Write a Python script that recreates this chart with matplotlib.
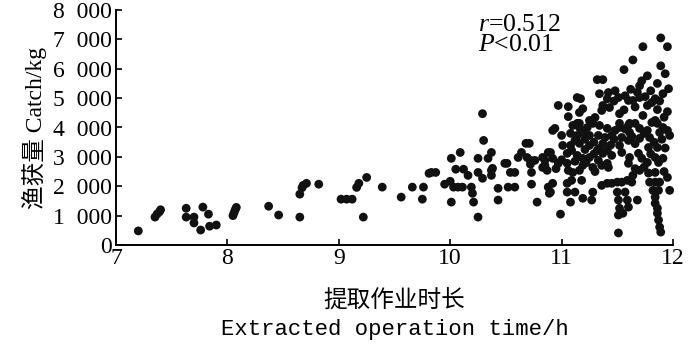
import matplotlib
matplotlib.use("Agg")
import matplotlib.pyplot as plt

hours = [
    7.20, 7.35, 7.37, 7.39, 7.40, 7.63, 7.63, 7.70, 7.70, 7.78, 7.83, 7.76, 7.84, 7.90,
    8.05, 8.06, 8.07, 8.08, 8.37, 8.46, 8.65, 8.67, 8.68, 8.71, 8.65, 8.82,
    9.02, 9.07, 9.12, 9.16, 9.18, 9.25, 9.22, 9.39, 9.56, 9.66, 9.76, 9.75, 9.81,
    10.29, 10.30, 10.09, 10.01, 9.83, 9.87, 10.05, 10.12, 10.16, 9.95, 10.00, 10.03, 10.07,
    10.11, 10.19, 10.20, 10.01, 10.21, 10.25, 10.25, 10.25, 10.29, 10.34, 10.37, 10.37,
    10.38, 10.37, 10.43, 10.43, 10.49, 10.51, 10.54, 10.58, 10.52, 10.58, 10.61, 10.64,
    10.68, 10.71, 10.69, 10.72, 10.76, 10.73, 10.72, 10.73, 10.78, 10.83, 10.85, 10.87,
    10.88, 10.89, 10.88,
    11.89, 11.95, 11.73, 11.64, 11.56, 11.89, 11.93, 11.77, 11.72, 11.70, 11.32, 11.37,
    11.14, 11.17, 11.06, 11.19, 11.16, 11.06, 10.94, 11.34, 11.42, 11.48, 11.51, 11.41,
    11.37, 11.36, 11.43, 11.52, 11.57, 11.60, 11.64, 11.70, 11.77, 11.81, 11.84, 11.91,
    11.96, 11.86, 11.95, 11.73, 11.81, 11.84, 11.25, 11.30, 11.14, 11.61, 11.52, 10.97, 11.16,
    10.92, 11.00, 11.10, 11.16, 11.23, 11.28, 11.34, 11.41, 11.08, 11.14, 11.19, 11.25,
    11.33, 11.39, 11.45, 11.52, 11.60, 11.66, 11.54, 11.52, 11.54, 11.61, 11.60, 11.70,
    11.70, 11.77, 11.79, 11.78, 11.86, 11.88, 11.91, 11.69, 11.72, 11.77, 11.86, 11.84,
    11.87, 11.70, 11.84, 10.90, 10.85, 10.83, 10.92, 10.97, 11.05, 11.09, 11.14, 11.19,
    11.01, 11.08, 11.16, 11.25, 11.32, 11.25, 11.33, 11.36, 11.41, 11.05, 11.06, 11.10,
    11.16, 11.19, 11.28, 11.34, 11.37, 11.41, 11.45, 11.42,
    10.92, 10.90, 11.05, 11.09, 11.18, 11.05, 11.12, 11.08, 11.19, 11.27, 11.28, 10.99,
    11.36, 11.41, 11.45, 11.50, 11.54, 11.59, 11.63, 11.50, 11.51, 11.52, 11.51, 11.57,
    11.59, 11.60, 11.55, 11.68, 11.51, 11.60, 11.61, 11.64, 11.79, 11.84, 11.88,
    11.82, 11.84, 11.84, 11.86, 11.86, 11.87, 11.88, 11.89, 11.87, 11.97, 11.95, 11.97,
    11.12, 11.21, 11.29, 11.37, 11.44, 11.47, 11.21, 11.29, 11.48, 11.57, 11.63, 11.66,
    11.74, 11.83, 11.90, 11.93, 11.91, 11.80,
    11.62, 11.68, 11.75, 11.80, 11.88, 11.66, 11.56, 11.47, 11.92, 11.86,
    11.00, 11.12, 11.22, 11.30, 10.95,
    11.66, 11.74, 11.78, 11.92, 11.95,
]
catch = [
    480, 950, 1060, 1130, 1200, 1250, 950, 950, 750, 1290, 1050, 510, 640, 680,
    1000, 1100, 1200, 1280, 1320, 1020, 1730, 1950, 2030, 2100, 950, 2070,
    1560, 1560, 1560, 1960, 2100, 2300, 950, 1970, 1630, 1970, 1970, 1560, 2440,
    4470, 3560, 3150, 2950, 2470, 2470, 2580, 2580, 2370, 2070, 2170, 1970, 1970,
    1970, 1970, 1760, 1460, 1460, 950, 2950, 2470, 2270, 2950, 3150, 2540,
    2610, 2370, 1930, 1530, 2780, 2780, 2470, 2470, 1970, 1970, 2980, 3150,
    3460, 3460, 2980, 2880, 2880, 2470, 2750, 2070, 1460, 2980, 2710, 2540,
    1970, 1760, 3150,
    7050, 6750, 6750, 6300, 5970, 6100, 5830, 5760, 5590, 5420, 5630, 5630,
    5020, 4980, 4710, 4640, 4510, 4370, 3970, 5150, 5190, 5250, 5020, 4980,
    4750, 4580, 4680, 4470, 5080, 4920, 4920, 5020, 4750, 4850, 4980, 5150,
    5320, 4610, 4540, 4410, 4170, 4240, 4240, 4340, 4140, 4140, 4000, 4750, 4000,
    3900, 3730, 4070, 4140, 4000, 4140, 4070, 3970, 3800, 3730, 3830, 3730,
    3730, 3660, 3730, 4140, 4070, 4140, 3660, 3390, 3150, 3830, 3560, 3970,
    3630, 3900, 3660, 3320, 4140, 3830, 4000, 3120, 2950, 2810, 3320, 2980,
    2810, 2540, 2470, 3150, 2880, 2640, 2950, 2780, 3120, 3220, 3050, 2950,
    3390, 3390, 3460, 3390, 3220, 2980, 2880, 2710, 2780, 2780, 2540, 2470,
    2540, 2710, 2640, 3290, 3120, 3220, 3050, 2640,
    2100, 1800, 2100, 2200, 2200, 1800, 1800, 1460, 1590, 1530, 1800, 1050,
    2030, 2100, 2100, 2140, 2140, 2200, 2140, 1800, 1530, 1250, 1020, 1800,
    1530, 1290, 1080, 1530, 410, 2780, 2980, 2370, 2140, 2140, 2140,
    1860, 1630, 1420, 1250, 1080, 850, 610, 440, 1860, 1860, 3900, 3730,
    3560, 3600, 3500, 3450, 3400, 3600, 3250, 3100, 3900, 3950, 3700, 3450,
    3800, 3500, 3600, 3300, 2950, 3100,
    5300, 5200, 5050, 5250, 4900, 4700, 4600, 4900, 4350, 5500,
    2900, 2850, 2800, 2500, 2600,
    2600, 2650, 2450, 2500, 2300,
]

x_ticks = [7, 8, 9, 10, 11, 12]
y_ticks = [0, 1000, 2000, 3000, 4000, 5000, 6000, 7000, 8000]
y_tick_labels = ["0", "1\u2002000", "2\u2002000", "3\u2002000", "4\u2002000",
                 "5\u2002000", "6\u2002000", "7\u2002000", "8\u2002000"]

plt.rcParams['mathtext.fontset'] = 'custom'
plt.rcParams['mathtext.rm'] = 'Liberation Serif'
plt.rcParams['mathtext.it'] = 'Liberation Serif:italic'

SERIF = ['Liberation Serif', 'Noto Sans CJK SC']

fig = plt.figure(figsize=(7.0, 3.45), dpi=100)
ax = fig.add_axes([116/700, 1 - 245/345, (673 - 116)/700, (245 - 10)/345])

ax.scatter(hours, catch, s=40, c='#111111', edgecolors='none', clip_on=False, zorder=3)

ax.set_xlim(7, 12)
ax.set_ylim(0, 8000)
ax.set_xticks(x_ticks)
ax.set_xticklabels([str(t) for t in x_ticks], family=SERIF, fontsize=17)
ax.set_yticks(y_ticks)
ax.set_yticklabels(y_tick_labels, family=SERIF, fontsize=17)

for s in ['top', 'right']:
    ax.spines[s].set_visible(False)
for s in ['left', 'bottom']:
    ax.spines[s].set_linewidth(1.4)
ax.tick_params(direction='in', length=4, width=1.2, pad=3)
ax.tick_params(axis='x', pad=2)

ax.set_ylabel("渔获量 Catch/kg", family=SERIF, fontsize=17, labelpad=4)

fig.text((116 + 673) / 2 / 700, 1 - 301/345, "提取作业时长", family=['Noto Sans CJK SC'],
         fontsize=17, ha='center', va='center')
fig.text((116 + 673) / 2 / 700, 1 - 329/345, "Extracted operation time/h",
         family=['Liberation Mono'], fontsize=16, ha='center', va='center')

ax.text(0.65, 0.985, "$r$=0.512\n$P$<0.01", transform=ax.transAxes,
        family=SERIF, fontsize=18.5, ha='left', va='top', linespacing=0.92)

fig.savefig("out.png", dpi=100)
